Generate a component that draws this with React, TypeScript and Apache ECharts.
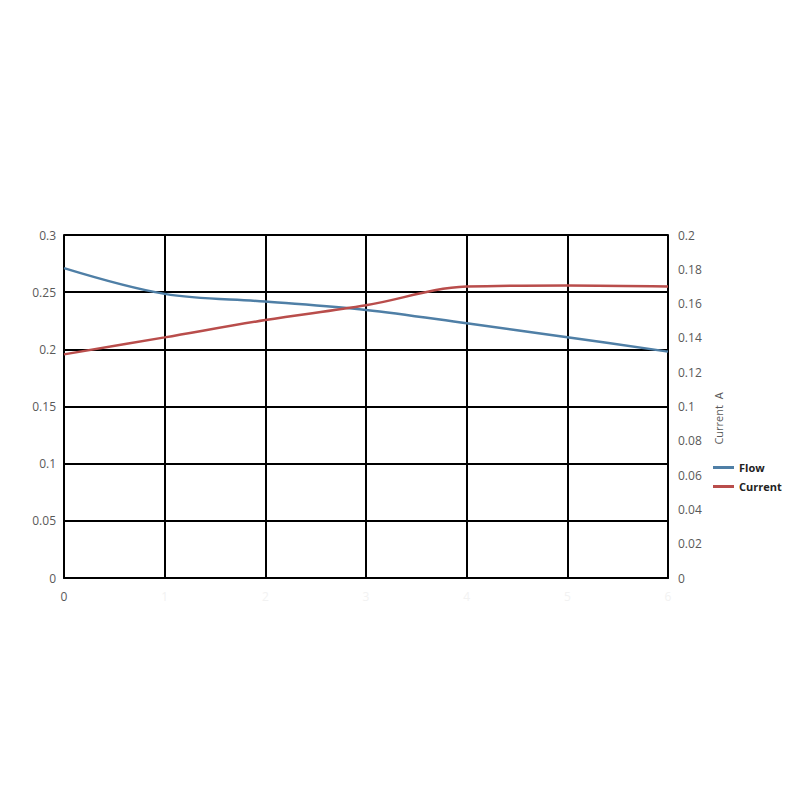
import React, { useEffect, useRef } from "react";
import * as echarts from "echarts";

const categories = ["0", "1", "2", "3", "4", "5", "6"];
const flowValues = [0.271, 0.2485, 0.2418, 0.2345, 0.2228, 0.2106, 0.198];
const currentValues = [0.1304, 0.1403, 0.1504, 0.159, 0.1699, 0.1706, 0.17];

const App: React.FC = () => {
  const chartRef = useRef<HTMLDivElement>(null);

  useEffect(() => {
    if (!chartRef.current) return;
    const myChart = echarts.init(chartRef.current, null, { renderer: "svg" });

    const font = "'Open Sans', 'Liberation Sans', sans-serif";

    const options = {
      animation: false,
      backgroundColor: "#ffffff",
      textStyle: { fontFamily: font },
      grid: { left: 64, right: 132, top: 235, bottom: 222 },
      legend: {
        orient: "vertical",
        left: 708,
        top: 457,
        itemWidth: 21,
        itemHeight: 3,
        itemGap: 8,
        icon: "rect",
        textStyle: { fontSize: 11, color: "#222", fontWeight: "bold", fontFamily: font },
        data: ["Flow", "Current"],
      },
      xAxis: {
        type: "category",
        data: categories,
        boundaryGap: false,
        axisLine: { lineStyle: { color: "#000", width: 2 } },
        axisTick: { show: false },
        splitLine: { show: true, lineStyle: { color: "#000", width: 2 } },
        axisLabel: {
          margin: 12,
          formatter: (v: string, i: number) => (i === 0 ? `{a|${v}}` : `{b|${v}}`),
          rich: {
            a: { color: "#595959", fontSize: 12, fontFamily: font },
            b: { color: "#f2f2f2", fontSize: 12, fontFamily: font },
          },
        },
      },
      yAxis: [
        {
          type: "value",
          min: 0,
          max: 0.3,
          interval: 0.05,
          axisLine: { show: true, lineStyle: { color: "#000", width: 2 } },
          axisTick: { show: false },
          splitLine: { lineStyle: { color: "#000", width: 2 } },
          axisLabel: { color: "#595959", fontSize: 12, margin: 8 },
        },
        {
          type: "value",
          min: 0,
          max: 0.2,
          interval: 0.02,
          position: "right",
          name: "Current  A",
          nameLocation: "middle",
          nameRotate: 90,
          nameGap: 44,
          nameTextStyle: { color: "#595959", fontSize: 11, padding: [0, 24, 0, 0] },
          axisLine: { show: true, lineStyle: { color: "#000", width: 2 } },
          axisTick: { show: false },
          splitLine: { show: false },
          axisLabel: { color: "#595959", fontSize: 12, margin: 10 },
        },
      ],
      series: [
        {
          name: "Flow",
          type: "line",
          data: flowValues,
          yAxisIndex: 0,
          smooth: 0.35,
          showSymbol: false,
          symbol: "none",
          color: "#4f7fa6",
          lineStyle: { color: "#4f7fa6", width: 2.5 },
        },
        {
          name: "Current",
          type: "line",
          data: currentValues,
          yAxisIndex: 1,
          smooth: 0.35,
          showSymbol: false,
          symbol: "none",
          color: "#b94d4b",
          lineStyle: { color: "#b94d4b", width: 2.5 },
        },
      ],
    };

    myChart.setOption(options);
    return () => {
      myChart.dispose();
    };
  }, []);

  return (
    <div
      ref={chartRef}
      style={{ position: "fixed", left: 0, top: 0, width: "800px", height: "800px" }}
    />
  );
};

export default App;
